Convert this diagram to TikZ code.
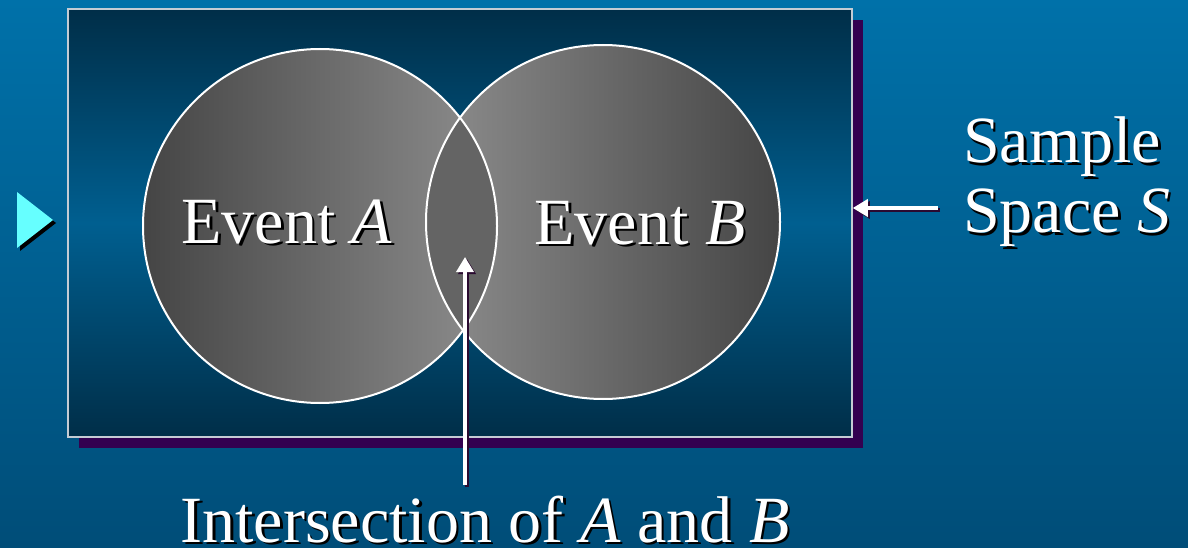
\documentclass[tikz,border=0pt]{standalone}
\usepackage{fontspec}
\setmainfont{Liberation Serif}
\usepackage{xcolor}
\usepackage{tikz}
\usetikzlibrary{arrows.meta,shadows}
\definecolor{skytop}{HTML}{0071A9}
\definecolor{skybot}{HTML}{004D78}
\definecolor{deep}{HTML}{002E48}
\definecolor{midblue}{HTML}{005F90}
\definecolor{plum}{HTML}{330050}
\definecolor{frameline}{HTML}{C4CCD4}
\definecolor{darkgrey}{HTML}{454545}
\definecolor{lightgrey}{HTML}{8E8E8E}
\definecolor{lensgrey}{HTML}{646464}
\definecolor{cyanmark}{HTML}{66FFFF}
\definecolor{arrowshade}{HTML}{2A0A30}
\newcommand{\shadowed}[1]{\makebox[0pt][l]{\hspace{2.5pt}\raisebox{-2.5pt}{\color{black}#1}}#1}

\begin{document}
\begin{tikzpicture}[
  x=1pt,y=-1pt,
  frame/.style={draw=frameline,line width=1.5pt,top color=deep,bottom color=deep,middle color=midblue,minimum width=784pt,minimum height=428pt,inner sep=0pt,drop shadow={shadow xshift=11pt,shadow yshift=-11pt,fill=plum,opacity=1}},
  ring/.style={circle,minimum size=354pt,inner sep=0pt},
  rim/.style={draw=white,line width=2pt},
  lbl/.style={text=white,inner sep=0pt,font=\fontsize{66}{70}\selectfont},
  arr/.style={white,line width=3.5pt,-{Triangle[length=15pt,width=17pt]}},
  arrshade/.style={arr,color=arrowshade,transform canvas={shift={(2pt,-2pt)}}}
]
\useasboundingbox (0,0) rectangle (1188,548);
\shade[top color=skytop,bottom color=skybot] (0,0) rectangle (1188,548);
\fill[black] (20,195) -- (56,223) -- (20,251) -- cycle;
\fill[cyanmark] (17,192) -- (53,220) -- (17,248) -- cycle;
\node[frame] (space) at (460,223) {};
\node[ring,left color=darkgrey,right color=lightgrey] (evA) at (320,226) {};
\node[ring,left color=lightgrey,right color=darkgrey] (evB) at (603,222) {};
\begin{scope}
  \clip (evA.center) circle[radius=177pt];
  \fill[lensgrey] (evB.center) circle[radius=177pt];
\end{scope}
\draw[rim] (evA.center) circle[radius=177pt] (evB.center) circle[radius=177pt];
\node[lbl,anchor=base] (txA) at (287,243) {\shadowed{Event \textit{A}}};
\node[lbl,anchor=base] (txB) at (640,244) {\shadowed{Event \textit{B}}};
\node[lbl,anchor=west,align=left] (txS) at (963,183) {\shadowed{Sample}\\\shadowed{Space \textit{S}}};
\node[lbl,anchor=base] (txI) at (485,542) {\shadowed{Intersection of \textit{A} and \textit{B}}};
\coordinate (sTail) at (938,208);
\coordinate (iTip) at (465,257);
\coordinate (iTail) at (465,485);
\draw[arrshade] (sTail) -- (space.east |- sTail);
\draw[arr] (sTail) -- (space.east |- sTail);
\draw[arrshade] (iTail) -- (iTip);
\draw[arr] (iTail) -- (iTip);
\end{tikzpicture}
\end{document}
